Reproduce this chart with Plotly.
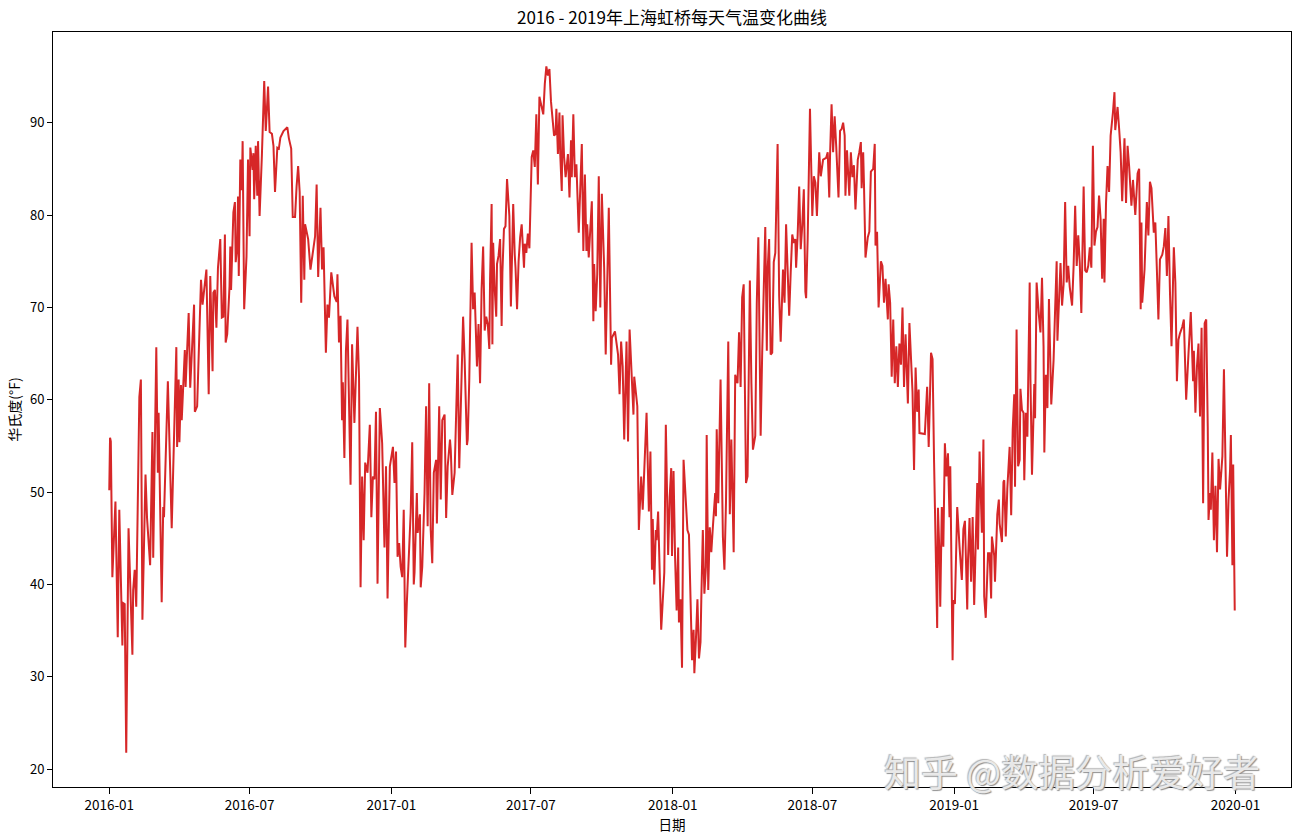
import pandas as pd
import plotly.graph_objects as go

START_DATE = "2016-01-01"

# days since 2016-01-01
day_index = [
    0, 1, 2, 4, 8, 11, 13, 17, 18, 20, 22, 25, 30, 31, 33, 35, 39, 41, 43, 47, 49, 53, 56, 57, 61, 63, 64,
    68, 70, 71, 76, 78, 81, 87, 88, 90, 91, 93, 94, 98, 99, 103, 105, 110, 111, 114, 119, 121,
    126, 129, 131, 134, 135, 137, 139, 141, 144, 146, 148, 150, 151, 153, 156, 157, 158, 161, 163, 164,
    166, 167, 168, 170, 172, 173, 175, 178, 180, 182, 183, 186, 187, 188, 190, 192, 193, 195, 197, 198,
    201, 203, 206, 208, 211, 213, 215, 218, 220, 222, 226, 231, 233, 236, 238, 241, 243, 245, 247, 249,
    251, 253, 254,
    258, 261, 264, 267, 269, 271, 274, 276, 278, 279, 281, 283, 285, 288, 290, 292, 295, 296, 298, 300,
    302, 303, 305, 307, 309, 311, 313, 315, 318, 322, 324, 326, 328, 330, 332, 335, 337, 338, 340, 342,
    344, 346, 348, 351, 354, 357, 359, 361, 364, 368, 370, 372, 374, 376, 378, 380, 382, 384, 386, 389,
    391, 393, 395, 396, 399, 400, 403, 404, 406, 409, 411, 413, 415, 417, 419, 421, 424, 425, 428, 430,
    432, 435, 437, 439, 442, 443, 445, 448, 450, 452, 454, 457, 459, 461, 464, 465, 467, 470, 472, 474,
    475, 477, 479, 481, 483, 485, 487, 489, 491, 493, 494, 496, 497, 498, 500, 502, 503, 505, 507, 509,
    510, 512, 514, 516, 519, 521, 523,
    524, 526, 527, 529, 531, 533, 535, 538, 539, 541, 543, 545, 546, 548, 550, 552, 554, 556, 558, 561,
    563, 565, 567, 569, 571, 573, 575, 577, 579, 580, 582, 584, 585, 587, 588, 590, 592, 594, 595, 597,
    599, 600, 602, 604, 606, 609, 610, 613, 615, 617, 619, 620, 622, 624, 626, 628, 629, 631, 633, 635,
    637, 639, 642, 644, 646, 648, 651, 652,
    656, 660, 662, 664, 666, 668, 671, 673, 675, 677, 680, 681, 683, 685, 687, 690, 692, 694, 697, 700,
    702, 704, 705, 707, 709, 710, 712, 716, 720, 722, 725, 727, 729, 730, 732, 734, 736, 738, 739, 741,
    743, 745, 748, 750, 752, 754, 756, 758, 759, 761, 763, 765, 767, 768, 770, 772, 774, 775, 777, 779,
    781, 783, 786, 787,
    788, 790, 793, 796, 798, 800, 803, 805, 807, 810, 812, 815, 817, 819, 821, 823, 826, 828, 831, 833,
    835, 838, 840, 842, 845, 847, 849, 851, 853, 854, 856, 858, 860, 862, 864, 867, 869, 871, 874, 876,
    878, 880, 882, 884, 886, 888, 890, 891, 893, 895, 897, 899, 901, 903, 904, 906, 909, 912, 914, 916, 918,
    921, 923, 926, 930, 932, 934, 935, 937, 939, 941, 943, 946, 948, 950, 952, 954, 955, 957, 960, 962,
    964, 966, 968, 971, 973, 975, 976, 978, 979, 981, 984, 986, 988, 991, 993, 994, 996, 998, 1001, 1003,
    1005, 1007, 1010, 1011, 1013, 1015, 1017, 1019, 1021, 1023, 1025, 1027, 1029, 1031, 1033, 1036, 1038,
    1040, 1042, 1044, 1046, 1048, 1050, 1051,
    1058, 1061, 1063, 1066, 1068, 1070, 1072, 1074, 1075, 1077, 1078, 1080, 1082, 1084, 1086, 1088, 1090,
    1091, 1094, 1095, 1097, 1100, 1103, 1106, 1108, 1110, 1113, 1114, 1116, 1118, 1120, 1122, 1124, 1126,
    1127, 1129, 1132, 1134, 1135, 1137, 1140, 1142, 1144, 1145, 1148, 1149, 1152, 1154, 1155, 1158, 1160,
    1161, 1163, 1165, 1168, 1170, 1172, 1174, 1175, 1177, 1179, 1181, 1182, 1184,
    1186, 1187, 1189, 1191, 1194, 1195, 1197, 1200, 1201, 1203, 1206, 1208, 1210, 1212, 1213, 1215, 1217,
    1219, 1222, 1225, 1227, 1229, 1230, 1232, 1234, 1236, 1238, 1240, 1242, 1244, 1246, 1249, 1251, 1253,
    1255, 1257, 1259, 1261, 1264, 1266, 1268, 1270, 1272, 1274, 1276, 1278, 1280, 1282, 1284, 1286, 1288,
    1290, 1291, 1293, 1295, 1297, 1299, 1302, 1304, 1305, 1308, 1310, 1312, 1314, 1316, 1317,
    1319, 1321, 1323, 1326, 1328, 1331, 1334, 1336, 1338, 1339, 1340, 1343, 1346, 1348, 1350, 1352, 1355,
    1357, 1359, 1361, 1363, 1366, 1368, 1370, 1372, 1374, 1376, 1378, 1381, 1383, 1385, 1387, 1389, 1392,
    1394, 1397, 1400, 1403, 1406, 1407, 1409, 1411, 1413, 1415, 1417, 1419, 1421, 1423, 1425, 1426, 1428,
    1429, 1431, 1433, 1435, 1437, 1439, 1441, 1444, 1446, 1448, 1450, 1452, 1454, 1455, 1457, 1458, 1460,
]

temps_f = [
    50.2, 55.9, 55.5, 40.8, 49.0, 34.3, 48.1, 33.4, 38.0, 37.9, 21.8, 46.1, 32.4, 39.4, 41.6, 37.6, 60.3, 62.2, 36.2, 51.9, 47.2, 42.1, 56.5, 42.9, 65.7, 52.1, 58.6,
    38.1, 48.4, 47.3, 62.0, 54.4, 46.1, 65.7, 54.9, 62.2, 55.4, 61.6, 57.8, 65.4, 61.4, 69.4, 61.3, 70.3, 58.7, 59.3, 73.0, 70.3,
    74.1, 60.6, 73.4, 63.1, 71.6, 71.9, 67.8, 74.3, 77.4, 68.9, 69.0, 77.9, 66.2, 67.1, 72.3, 76.6, 71.9, 80.3, 81.4, 74.9,
    76.6, 82.0, 73.4, 86.0, 82.7, 88.0, 69.8, 75.5, 86.0, 77.7, 87.3, 84.9, 86.7, 81.7, 87.5, 82.1, 88.0, 79.9, 86.3, 86.5,
    94.5, 89.1, 93.9, 89.0, 88.8, 87.5, 82.5, 87.3, 87.2, 88.4, 89.1, 89.5, 88.3, 87.2, 79.8, 79.8, 83.1, 85.3, 82.5, 70.5,
    82.1, 73.0, 79.0,
    77.4, 74.1, 75.9, 77.7, 83.3, 73.3, 80.8, 74.1, 76.5, 72.3, 65.1, 70.3, 68.9, 73.8, 72.3, 71.2, 70.6, 73.6, 66.2, 69.1,
    57.8, 61.9, 53.7, 65.3, 68.7, 59.7, 50.8, 66.0, 57.5, 67.9, 62.4, 39.7, 51.7, 44.8, 53.2, 52.1, 56.4, 57.3, 47.3, 51.7,
    51.4, 58.7, 40.1, 59.1, 55.3, 44.0, 52.8, 38.5, 52.8, 54.9, 51.0, 54.4, 43.0, 44.5, 41.9, 40.8, 48.1, 33.2, 38.0, 44.1,
    47.8, 55.4, 40.0, 41.3, 49.9, 45.6, 47.6, 39.7, 41.9, 49.9, 59.3, 46.3, 61.8, 45.9, 42.3, 52.1, 53.5, 46.6, 59.3, 49.2,
    57.8, 58.4, 47.2, 52.8, 55.7, 54.6, 49.7, 52.1, 57.8, 64.9, 52.6, 62.1, 69.0, 64.3, 55.1, 55.7, 62.1, 77.0, 69.8, 71.6,
    69.5, 63.6, 68.2, 61.8, 72.0, 76.6, 67.5, 69.0, 68.2, 65.5, 73.1, 81.2, 66.0, 77.0, 72.0, 69.0, 74.7, 75.6, 77.4, 68.0,
    73.8, 78.5, 78.8, 83.9, 79.9, 70.1, 77.4,
    81.2, 75.7, 74.3, 69.8, 75.0, 77.6, 79.0, 74.3, 76.9, 75.9, 78.0, 76.4, 81.2, 86.3, 87.0, 85.2, 90.9, 83.3, 92.8, 91.5,
    90.9, 94.2, 96.1, 95.1, 95.8, 92.3, 90.6, 88.6, 88.8, 91.5, 86.6, 91.1, 86.6, 82.6, 90.8, 86.3, 84.1, 85.5, 86.6, 81.9,
    88.1, 84.1, 90.9, 84.1, 85.5, 78.1, 81.2, 87.7, 76.1, 84.4, 76.1, 79.0, 75.4, 79.0, 81.5, 68.5, 74.7, 69.6, 73.6, 84.2,
    70.0, 82.3, 74.3, 64.9, 72.5, 80.8, 63.8, 66.7,
    67.4, 64.9, 60.6, 66.3, 63.6, 55.7, 66.3, 55.5, 67.6, 63.2, 58.4, 62.5, 60.9, 59.3, 45.9, 51.7, 48.1, 52.8, 58.6, 47.9,
    54.4, 41.6, 47.1, 40.0, 45.9, 44.8, 47.9, 35.1, 41.3, 57.3, 43.2, 49.5, 52.6, 43.1, 52.3, 42.9, 37.2, 44.0, 35.9, 38.4,
    31.0, 53.5, 48.3, 45.9, 45.4, 39.4, 31.8, 35.1, 30.4, 34.0, 38.4, 32.0, 33.8, 38.3, 45.9, 39.0, 41.9, 56.2, 39.4, 46.2,
    43.5, 46.2, 49.9, 47.4,
    56.8, 48.8, 62.2, 45.2, 41.6, 48.8, 66.3, 47.6, 55.7, 43.5, 62.7, 61.8, 67.3, 61.4, 71.1, 72.5, 51.0, 51.7, 72.9, 61.8,
    54.6, 56.1, 70.5, 77.6, 56.1, 65.1, 72.3, 78.7, 65.3, 74.0, 77.4, 64.9, 65.1, 74.9, 75.9, 87.7, 71.3, 66.3, 74.1, 70.5,
    79.0, 73.4, 69.1, 73.8, 77.9, 77.0, 77.4, 74.3, 77.8, 83.1, 76.3, 78.9, 82.8, 71.7, 71.0, 77.4, 91.5, 79.9, 84.2, 83.5, 79.9,
    86.8, 84.2, 86.0, 86.2, 86.8, 81.9, 86.4, 92.0, 86.8, 90.7, 87.5, 81.9, 89.1, 89.3, 90.0, 88.6, 82.1, 87.0, 82.1, 86.8,
    84.1, 85.4, 80.6, 86.0, 86.8, 87.9, 82.9, 86.8, 83.5, 75.4, 77.6, 78.2, 84.7, 85.0, 87.7, 76.7, 78.2, 70.0, 75.0, 74.5,
    70.5, 73.1, 68.7, 72.5, 70.5, 62.5, 68.7, 61.8, 65.8, 61.4, 66.1, 63.8, 70.0, 61.4, 67.1, 59.6, 68.3,
    64.3, 60.9, 52.4, 63.5, 58.7, 61.1, 56.4,
    56.3, 61.4, 54.9, 65.1, 64.4, 53.2, 42.7, 35.3, 48.3, 43.1, 37.6, 48.4, 44.1, 55.3, 51.7, 54.2, 47.3,
    52.8, 31.8, 38.3, 37.9, 48.4, 44.1, 40.5, 46.0, 46.9, 37.3, 42.7, 47.2, 40.3, 47.3, 37.8, 44.5, 51.0,
    43.8, 54.4, 45.6, 55.7, 38.7, 36.4, 43.4, 43.4, 38.5, 45.2, 43.1, 40.3, 47.6, 49.2, 46.6, 44.6, 51.1,
    51.3, 45.2, 50.4, 54.9, 47.5, 56.8, 60.6, 50.6, 67.6, 52.8, 53.5, 61.2, 58.9,
    58.6, 51.3, 58.6, 56.0, 72.7, 62.2, 51.9, 61.7, 58.0, 72.7, 69.1, 67.3, 73.2, 65.8, 54.3, 62.7, 59.1,
    70.9, 59.5, 64.3, 69.8, 75.0, 66.4, 70.9, 74.8, 70.2, 72.5, 81.4, 72.7, 74.5, 72.2, 70.2, 74.5, 81.0,
    74.5, 77.8, 74.8, 69.4, 83.1, 74.0, 73.8, 74.5, 76.5, 74.3, 87.5, 76.7, 78.2, 78.7, 82.1, 79.6, 73.1,
    79.6, 72.7, 81.2, 85.3, 82.5, 88.6, 91.1, 93.3, 89.2, 91.7, 89.4, 86.8, 81.5, 86.4, 88.3,
    81.3, 87.5, 85.3, 81.0, 83.8, 80.0, 84.5, 85.0, 69.8, 79.2, 70.5, 74.1, 81.4, 77.8, 83.6, 82.9, 78.1,
    79.2, 74.1, 68.7, 75.2, 75.7, 76.6, 78.6, 73.4, 79.9, 71.6, 65.8, 76.5, 72.7, 62.0, 66.5, 67.2, 67.9,
    68.7, 60.0, 65.0, 69.5, 62.0, 65.3, 58.6, 63.6, 66.1, 58.2, 67.8, 48.8, 68.3, 68.7, 57.1, 47.0, 49.9,
    48.1, 54.3, 44.8, 50.7, 43.5, 53.6, 50.3, 53.9, 63.3, 53.2, 43.0, 49.2, 52.5, 56.2, 42.1, 53.0, 37.2,
]

tick_dates = ["2016-01-01", "2016-07-01", "2017-01-01", "2017-07-01", "2018-01-01",
              "2018-07-01", "2019-01-01", "2019-07-01", "2020-01-01"]
tick_labels = ["2016-01", "2016-07", "2017-01", "2017-07", "2018-01",
               "2018-07", "2019-01", "2019-07", "2020-01"]
y_ticks = [20, 30, 40, 50, 60, 70, 80, 90]

assert len(day_index) == len(temps_f), (len(day_index), len(temps_f))

start = pd.Timestamp(START_DATE)
dates = start + pd.to_timedelta(day_index, unit="D")

# matplotlib-like 5% margins
x0, x1 = dates.min(), dates.max()
xpad = (x1 - x0) * 0.05
ymin, ymax = min(temps_f), max(temps_f)
ypad = (ymax - ymin) * 0.05

FONT = "Noto Sans CJK SC, DejaVu Sans, sans-serif"

fig = go.Figure()
fig.add_trace(go.Scatter(
    x=dates, y=temps_f, mode="lines",
    line=dict(color="#d62728", width=2),
    showlegend=False, hoverinfo="x+y",
))

fig.update_layout(
    width=1302, height=837,
    margin=dict(l=53, r=11, t=32, b=50),
    paper_bgcolor="white", plot_bgcolor="white",
    font=dict(family=FONT, size=13, color="black"),
    title=dict(text="2016 - 2019年上海虹桥每天气温变化曲线",
               x=0.5, xref="paper", xanchor="center",
               y=1 - 18 / 837, yref="container", yanchor="middle",
               font=dict(family=FONT, size=17, color="black")),
    xaxis=dict(
        range=[x0 - xpad, x1 + xpad],
        tickvals=pd.to_datetime(tick_dates), ticktext=tick_labels,
        ticks="outside", ticklen=6, tickcolor="black", tickwidth=1,
        showline=True, linecolor="black", linewidth=1, mirror=True,
        showgrid=False, zeroline=False,
        tickfont=dict(family=FONT, size=13.5, color="black"),
        title=dict(text="日期", standoff=2, font=dict(family=FONT, size=13.5, color="black")),
    ),
    yaxis=dict(
        range=[ymin - ypad, ymax + ypad],
        tickvals=y_ticks,
        ticks="outside", ticklen=5, tickcolor="black", tickwidth=1,
        showline=True, linecolor="black", linewidth=1, mirror=True,
        showgrid=False, zeroline=False,
        tickfont=dict(family=FONT, size=13, color="black"),
        title=dict(text="华氏度(°F)", standoff=6, font=dict(family=FONT, size=14, color="black")),
    ),
)

fig.add_annotation(
    text="知乎 @数据分析爱好者", xref="paper", yref="paper",
    x=1.0, y=0.0, xanchor="right", yanchor="middle", xshift=-29, yshift=16,
    showarrow=False,
    font=dict(family=FONT, size=37, color="rgba(238,238,238,0.95)",
              shadow="1px 1px 1px #8a8a8a, -1px -1px 1px #b0b0b0"),
)

fig.write_html("out.html")
